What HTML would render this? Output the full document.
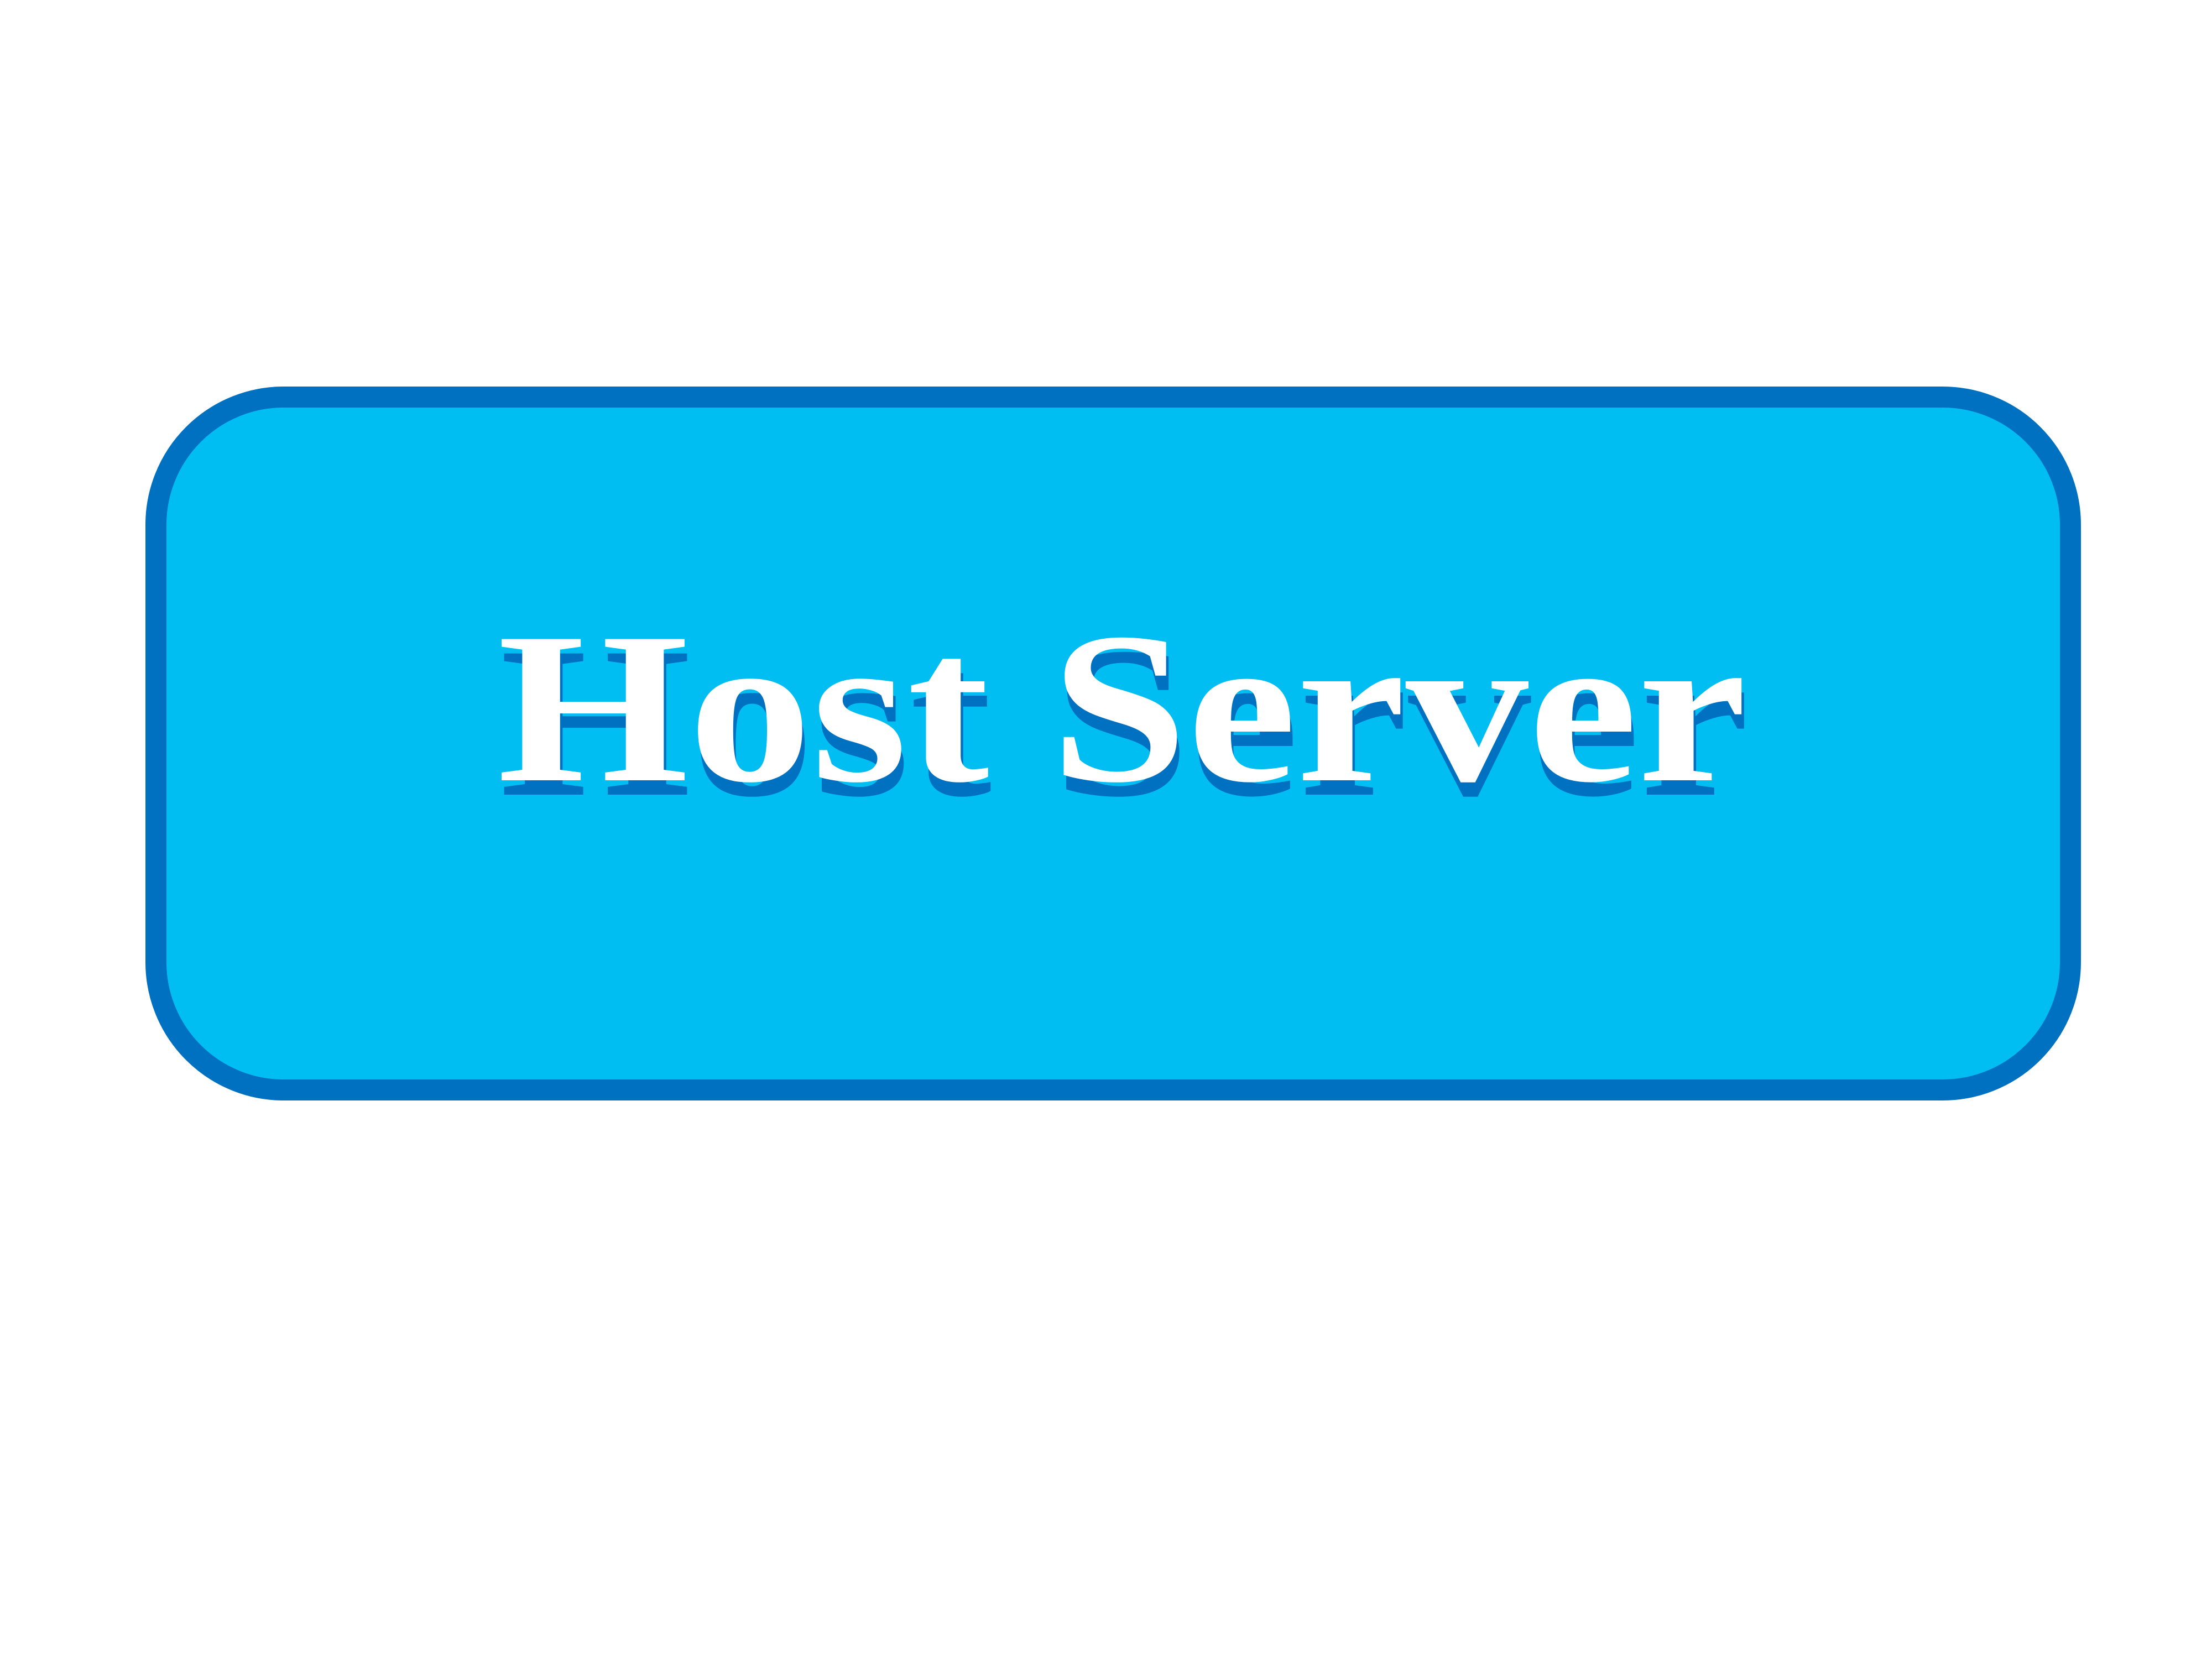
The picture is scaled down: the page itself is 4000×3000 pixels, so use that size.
<!DOCTYPE html>
<html>
<head>
<meta charset="utf-8">
<style>
  html, body { margin:0; padding:0; background:#ffffff; }
  body { width:4000px; height:3000px; position:relative; overflow:hidden; }
  .box {
    position:absolute;
    left:263px; top:699px;
    width:3500px; height:1291px;
    box-sizing:border-box;
    background:#00BEF2;
    border:38px solid #0070C0;
    border-radius:250px;
  }
  .label {
    position:absolute;
    left:33px; width:4000px;
    top:1110px;
    text-align:center;
    font-family:"Liberation Serif", serif;
    font-weight:bold;
    font-size:390px;
    line-height:340px;
    color:#ffffff;
    transform:scaleX(1.14);
    transform-origin:2028px 50%;
    text-shadow:4px 26px 0 #0070C0;
    white-space:nowrap;
  }
</style>
</head>
<body>
  <div class="box"></div>
  <div class="label">Host Server</div>
</body>
</html>
